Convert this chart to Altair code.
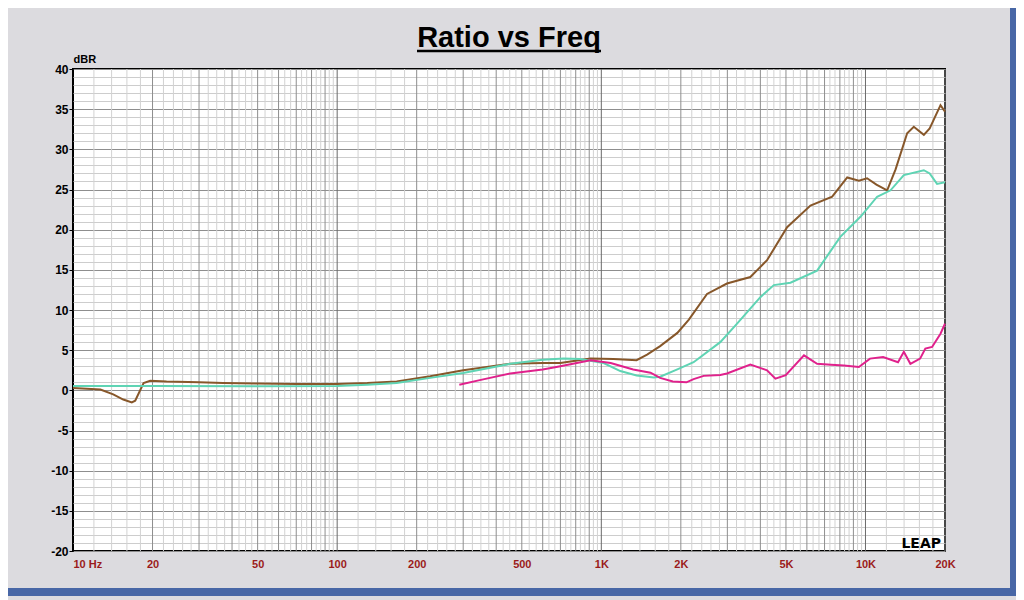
import altair as alt
import pandas as pd

# ---------------- data ----------------
brown_f = [10, 12.7, 14.2, 15.5, 16.7, 17.2, 18.5, 19.6, 22.6, 30, 37, 50, 70, 100, 130, 168, 225, 300,
           452, 600, 700, 910, 1110, 1360, 1490, 1670, 1940, 2145, 2513, 2990, 3665, 3900, 4240, 5050, 6190,
           7480, 8530, 9440, 10140, 11000, 12080, 13000, 14380, 15240, 16630, 17500, 19230, 20000]
brown_db = [0.3, 0.1, -0.5, -1.15, -1.5, -1.3, 0.9, 1.2, 1.1, 1.0, 0.9, 0.85, 0.8, 0.8, 0.9, 1.1, 1.75, 2.5,
            3.3, 3.4, 3.4, 3.95, 3.9, 3.75, 4.45, 5.5, 7.15, 8.8, 12.0, 13.3, 14.1, 15.0, 16.2, 20.3, 23.0,
            24.1, 26.5, 26.1, 26.4, 25.6, 24.9, 27.5, 32.0, 32.8, 31.8, 32.6, 35.5, 34.7]

turq_f = [10, 20, 50, 100, 130, 168, 225, 300, 452, 600, 720, 830, 1020, 1180, 1360, 1580, 1670, 1940,
          2235, 2820, 3265, 4000, 4500, 5200, 6560, 8030, 9570, 11070, 12440, 13970, 16630, 17500, 18660, 20000]
turq_db = [0.55, 0.55, 0.5, 0.55, 0.7, 0.9, 1.55, 2.15, 3.3, 3.8, 3.95, 3.9, 3.4, 2.4, 1.85, 1.6, 1.7, 2.6,
           3.5, 6.0, 8.3, 11.6, 13.1, 13.4, 14.9, 19.1, 21.6, 24.1, 24.9, 26.8, 27.4, 27.0, 25.7, 25.9]

mag_f = [290, 350, 452, 600, 700, 910, 1085, 1320, 1535, 1670, 1865, 2100, 2235, 2440, 2820, 2990, 3665,
         4240, 4560, 4990, 5850, 6560, 7400, 8280, 9440, 10400, 11660, 13280, 13970, 14790, 16100, 16850,
         17870, 19230, 20000]
mag_db = [0.7, 1.3, 2.1, 2.6, 3.0, 3.75, 3.4, 2.6, 2.2, 1.55, 1.1, 1.0, 1.4, 1.8, 1.9, 2.1, 3.2,
          2.5, 1.45, 1.9, 4.35, 3.3, 3.2, 3.1, 2.9, 3.95, 4.15, 3.5, 4.8, 3.3, 3.95, 5.2,
          5.4, 7.05, 8.3]

series_names = ["brown", "turquoise", "magenta"]
series_colors = ["#87572a", "#5fd4b4", "#e0218c"]

x_tick_values = [10, 20, 50, 100, 200, 500, 1000, 2000, 5000, 10000, 20000]
x_tick_labels = ["10  Hz", "20", "50", "100", "200", "500", "1K", "2K", "5K", "10K", "20K"]

title_text = "Ratio vs Freq"
y_title = "dBR"

# ---------------- tables ----------------
rows = []
for name, fs, ds in zip(series_names, [brown_f, turq_f, mag_f], [brown_db, turq_db, mag_db]):
    for f, d in zip(fs, ds):
        rows.append({"f": f, "db": d, "series": name})
df = pd.DataFrame(rows)

# grid positions of the log frequency axis
decades = [10, 100, 1000, 10000]
major_grid, minor_grid = [], []
for dec in decades:
    for m in range(2, 10):
        if dec * m <= 20000:
            major_grid.append(dec * m)
    steps = ([1 + 0.2 * k for k in range(1, 5)] + [2 + 0.2 * k for k in range(1, 5)] +
             [3 + 0.25 * k for k in (1, 2, 3)] + [4 + 0.25 * k for k in (1, 2, 3)] +
             [m + t for m in range(5, 10) for t in (1 / 3, 2 / 3)])
    for s in steps:
        if dec * s < 20000:
            minor_grid.append(dec * s)
decade_grid = [100, 1000, 10000]

FONT = "Liberation Sans"
xscale = alt.Scale(type="log", domain=[10, 20000], nice=False)
yscale = alt.Scale(domain=[-20, 40], nice=False)

label_expr = ""
for v, lab in zip(x_tick_values, x_tick_labels):
    label_expr += f"datum.value == {v} ? '{lab}' : "
label_expr += "''"

minor_layer = alt.Chart(pd.DataFrame({"f": minor_grid})).mark_rule(color="#d2d2d2", strokeWidth=1).encode(
    x=alt.X("f:Q", scale=xscale))
major_layer = alt.Chart(pd.DataFrame({"f": major_grid})).mark_rule(color="#8e8e8e", strokeWidth=1).encode(
    x=alt.X("f:Q", scale=xscale))
decade_layer = alt.Chart(pd.DataFrame({"f": decade_grid})).mark_rule(color="#6a6a6a", strokeWidth=1).encode(
    x=alt.X("f:Q", scale=xscale))

lines = alt.Chart(df).mark_line(strokeWidth=2).encode(
    x=alt.X("f:Q", scale=xscale, title=None,
            axis=alt.Axis(values=x_tick_values, labelExpr=label_expr, grid=False, ticks=False,
                          domain=False, labelFlush=False, labelOverlap=False,
                          labelAlign={"condition": {"test": "datum.value == 10", "value": "left"},
                                      "value": "center"},
                          labelColor="#9b1b1b", labelFont=FONT, labelFontSize=11,
                          labelFontWeight="bold", labelPadding=7)),
    y=alt.Y("db:Q", scale=yscale, title=y_title,
            axis=alt.Axis(values=list(range(-20, 41)),
                          labelExpr="datum.value % 5 == 0 ? '' + datum.value : ''",
                          gridColor={"condition": {"test": "datum.value % 5 == 0", "value": "#8e8e8e"},
                                     "value": "#cdcdcd"},
                          tickColor={"condition": {"test": "datum.value % 5 == 0", "value": "#000000"},
                                     "value": "transparent"},
                          tickSize=4, domain=False, labelOverlap=False, labelPadding=1,
                          labelFont=FONT, labelFontSize=12, labelFontWeight="bold", labelColor="black",
                          titleAngle=0, titleX=0, titleY=-5, titleAlign="left", titleBaseline="bottom",
                          titleFont=FONT, titleFontSize=11, titleFontWeight="bold", titleColor="black")),
    color=alt.Color("series:N", scale=alt.Scale(domain=series_names, range=series_colors), legend=None),
    detail="series:N",
)

one = pd.DataFrame({"a": [0]})
title_mark = alt.Chart(one).mark_text(fontSize=29, font=FONT, fontWeight="bold", color="black",
                                      align="center", baseline="alphabetic").encode(
    x=alt.value(436), y=alt.value(-22), text=alt.value(title_text))
underline = alt.Chart(one).mark_rule(color="black", strokeWidth=2.5).encode(
    x=alt.value(344), x2=alt.value(528), y=alt.value(-18))
logo = alt.Chart(one).mark_text(fontSize=14, font="DejaVu Sans", fontWeight="bold", color="black",
                                align="right", baseline="alphabetic").encode(
    x=alt.value(868), y=alt.value(479), text=alt.value("LEAP"))
blue_right = alt.Chart(one).mark_rect(color="#4867a6").encode(
    x=alt.value(937), x2=alt.value(943), y=alt.value(-61), y2=alt.value(527))
blue_bottom = alt.Chart(one).mark_rect(color="#4867a6").encode(
    x=alt.value(-65), x2=alt.value(943), y=alt.value(519), y2=alt.value(527))

chart = alt.layer(minor_layer, major_layer, decade_layer, lines, logo, title_mark, underline,
                  blue_right, blue_bottom).properties(
    width=872, height=482, background="#dcdbdf",
    padding={"left": 65, "top": 61, "right": 71, "bottom": 49},
    autosize=alt.AutoSizeParams(type="none"),
).configure_view(fill="white", stroke="black", strokeWidth=2)

chart.save("out.html", embed_options={"renderer": "svg", "actions": False})
